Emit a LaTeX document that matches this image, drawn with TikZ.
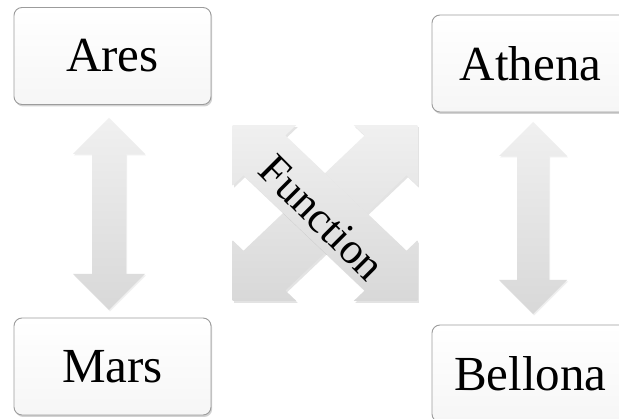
\documentclass[tikz,border=0pt]{standalone}
\usepackage{fontspec}
\setmainfont{Liberation Serif}
\usetikzlibrary{shadows}
\definecolor{boxborder}{HTML}{9C9C9C}
\definecolor{boxbot}{HTML}{F6F6F6}
\definecolor{arrtop}{HTML}{F0F0F0}
\definecolor{arrbot}{HTML}{D8D8D8}
\begin{document}
\begin{tikzpicture}[x=1pt,y=-1pt,
  godbox/.style={draw=boxborder, line width=0.9pt, rounded corners=8pt,
    top color=white, bottom color=boxbot,
    minimum width=197pt, minimum height=97pt, inner sep=0pt,
    font=\fontsize{49}{58}\selectfont,
    drop shadow={shadow xshift=1.2pt, shadow yshift=-2pt, opacity=0.35}},
  bigarrow/.style={draw=none, top color=arrtop, bottom color=arrbot,
    drop shadow={shadow xshift=1pt, shadow yshift=-1.5pt, opacity=0.12}},
  diagarrow/.style={draw=none, top color=arrtop, bottom color=arrbot,
    drop shadow={shadow xshift=1.5pt, shadow yshift=-2pt, opacity=0.22}},
  fnlabel/.style={font=\fontsize{44}{53}\selectfont, inner sep=0pt}
]
\useasboundingbox (0,0) rectangle (619,419);
\clip (0,0) rectangle (619,419);
\fill[white] (0,0) rectangle (619,419);

% boxes
\node[godbox] (ares)    at (112.5,56)   {Ares};
\node[godbox] (mars)    at (112.5,366.5){Mars};
\node[godbox] (athena)  at (530.5,63.5) {Athena};
\node[godbox] (bellona) at (530.5,373.5){Bellona};

% vertical double arrows
\path[bigarrow] (109,118) -- (145,154) -- (126,154) -- (126,274) -- (145,274)
  -- (109,310) -- (73,274) -- (92,274) -- (92,154) -- (73,154) -- cycle;
\path[bigarrow] (533,122) -- (567,156) -- (549,156) -- (549,280) -- (567,280)
  -- (533,314) -- (499,280) -- (517,280) -- (517,156) -- (499,156) -- cycle;

% crossed diagonal arrows
\begin{scope}[shift={(325,213)}, xscale=1.02, yscale=0.97]
  \path[diagarrow] (-90.5,90.5) -- (-28.3,90.5) -- (-38.9,79.9) -- (79.9,-38.9)
    -- (90.5,-28.3) -- (90.5,-90.5) -- (28.3,-90.5) -- (38.9,-79.9)
    -- (-79.9,38.9) -- (-90.5,28.3) -- cycle;
  \path[diagarrow] (90.5,90.5) -- (28.3,90.5) -- (38.9,79.9) -- (-79.9,-38.9)
    -- (-90.5,-28.3) -- (-90.5,-90.5) -- (-28.3,-90.5) -- (-38.9,-79.9)
    -- (79.9,38.9) -- (90.5,28.3) -- cycle;
\end{scope}
\node[fnlabel, rotate=-45] (fn) at (322,218) {Function};
\end{tikzpicture}
\end{document}
